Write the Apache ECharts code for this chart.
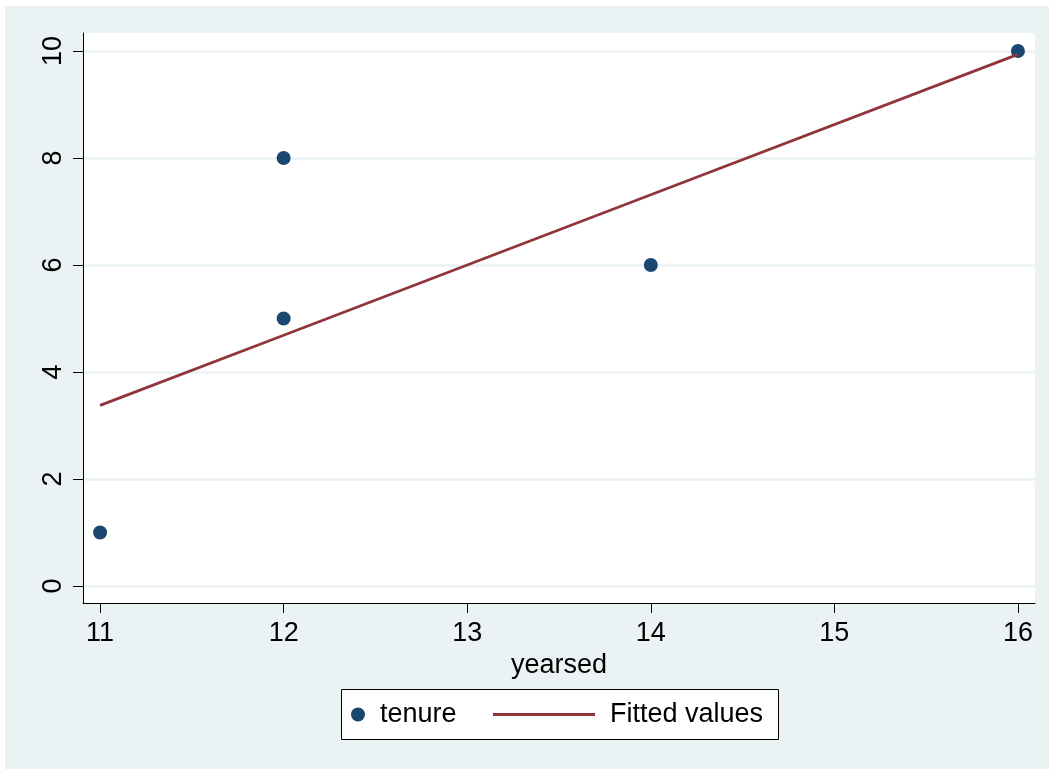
<!DOCTYPE html>
<html>
<head>
<meta charset="utf-8">
<script src="https://cdn.jsdelivr.net/npm/echarts@6/dist/echarts.min.js"></script>
<style>
  html, body { margin: 0; padding: 0; background: #ffffff; }
  #chart { position: absolute; left: 5px; top: 6px; width: 1044px; height: 763px; }
</style>
</head>
<body>
<div id="chart"></div>
<script>
// Observed values: years of education vs. tenure
const yearsed = [11, 12, 12, 14, 16];
const tenure = [1, 8, 5, 6, 10];

// Linear fit evaluated at the observed x values
const fitX = [11, 12, 14, 16];
const fitY = [3.375, 4.6875, 7.3125, 9.9375];

const xTicks = [11, 12, 13, 14, 15, 16];
const yTicks = [0, 2, 4, 6, 8, 10];

const FONT = '"Liberation Sans", Arial, sans-serif';
const FS = 27;
const NAVY = '#1a476f';
const MAROON = '#90353b';
const BG = '#eaf2f3';

const chart = echarts.init(document.getElementById('chart'), null, { renderer: 'canvas' });

chart.setOption({
  backgroundColor: BG,
  animation: false,
  textStyle: { fontFamily: FONT },
  grid: {
    left: 78, top: 27, right: 14, bottom: 166,
    show: true, backgroundColor: '#ffffff', borderWidth: 0
  },
  xAxis: {
    type: 'value',
    min: 10.907, max: 16.093,
    name: 'yearsed',
    nameLocation: 'middle',
    nameGap: 40,
    nameTextStyle: { fontSize: FS, color: '#000', fontFamily: FONT },
    axisLine: { show: true, onZero: false, lineStyle: { color: '#000', width: 1 } },
    axisTick: { show: true, length: 10, customValues: xTicks, lineStyle: { color: '#000', width: 1 } },
    axisLabel: { customValues: xTicks, fontSize: FS, color: '#000', margin: 17, fontFamily: FONT },
    splitLine: { show: false }
  },
  yAxis: {
    type: 'value',
    min: -0.318, max: 10.336,
    axisLine: { show: true, onZero: false, lineStyle: { color: '#000', width: 1 } },
    axisTick: { show: true, length: 10, customValues: yTicks, lineStyle: { color: '#000', width: 1 } },
    axisLabel: { customValues: yTicks, fontSize: FS, color: '#000', margin: 16, rotate: 90, fontFamily: FONT },
    splitLine: { show: true, lineStyle: { color: BG, width: 2.5 } }
  },
  legend: [
    {
      data: [{ name: 'tenure', icon: 'circle' }],
      left: 346, top: 695,
      padding: 0,
      itemWidth: 14, itemHeight: 14,
      textStyle: { fontSize: FS, color: '#000', fontFamily: FONT, padding: [0, 0, 0, 10] },
      selectedMode: false
    },
    {
      data: [{ name: 'Fitted values', icon: 'rect' }],
      left: 488, top: 695,
      padding: 0,
      itemWidth: 102, itemHeight: 2.8,
      textStyle: { fontSize: FS, color: '#000', fontFamily: FONT, padding: [0, 0, 0, 10] },
      selectedMode: false
    }
  ],
  graphic: [
    {
      type: 'rect',
      z: 0,
      shape: { x: 336.5, y: 683.5, width: 437, height: 50 },
      style: { fill: '#ffffff', stroke: '#000', lineWidth: 1 }
    }
  ],
  series: [
    {
      name: 'tenure',
      type: 'scatter',
      data: yearsed.map((x, i) => [x, tenure[i]]),
      symbol: 'circle',
      symbolSize: 14,
      itemStyle: { color: NAVY, opacity: 1 }
    },
    {
      name: 'Fitted values',
      type: 'line',
      data: fitX.map((x, i) => [x, fitY[i]]),
      symbol: 'none',
      showSymbol: false,
      lineStyle: { color: MAROON, width: 2.8 },
      itemStyle: { color: MAROON }
    }
  ]
});
</script>
</body>
</html>
